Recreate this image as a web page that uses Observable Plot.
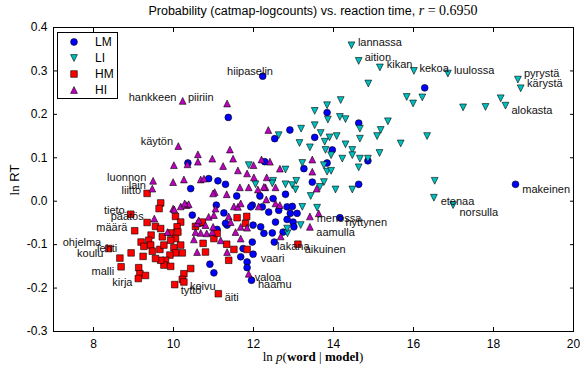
<!DOCTYPE html>
<html><head><meta charset="utf-8">
<script src="https://cdn.jsdelivr.net/npm/d3@7"></script>
<script src="https://cdn.jsdelivr.net/npm/@observablehq/plot@0.6"></script>
<style>
body{margin:0;background:#fff;}
#wrap{position:relative;width:580px;height:371px;font-family:"Liberation Sans",Arial,sans-serif;color:#000;}
#title{position:absolute;left:53px;width:520px;top:3px;text-align:center;font-size:12.5px;line-height:16px;white-space:nowrap;}
.math{font-family:"Liberation Serif","DejaVu Serif",serif;font-size:14px;}
#xlabel{position:absolute;left:53px;width:520px;top:349px;text-align:center;font-family:"Liberation Serif",serif;font-size:13px;line-height:16px;}
#ylabel{position:absolute;left:-35px;top:172px;width:100px;text-align:center;transform:rotate(-90deg);font-size:13px;line-height:16px;}
#legend{position:absolute;left:57px;top:32px;width:59px;height:65px;border:1px solid #000;background:#fff;}
.lrow{position:absolute;left:0;height:16px;width:59px;font-size:12px;line-height:16px;}
.lrow svg{position:absolute;left:9px;top:1px;}
.lrow span{position:absolute;left:37px;top:0;}
</style>
</head><body>
<div id="wrap">
<div id="title">Probability (catmap-logcounts) vs. reaction time, <span class="math"><i>r</i> = 0.6950</span></div>
<div id="plot"></div>
<div id="legend"></div>
<div id="xlabel">ln <i>p</i>(<b>word</b> | <b>model</b>)</div>
<div id="ylabel"><span style="font-family:'Liberation Serif',serif">ln</span> RT</div>
</div>
<script>
// ---- data ----
const seriesNames = ["LM", "LI", "HM", "HI"];
const seriesColors = ["#0000ff", "#00bfbf", "#ff0000", "#bf00bf"];

const lmX = [12.23,11.37,10.36,10.88,11.11,11.30,10.43,11.58,12.16,12.28,12.91,12.53,13.26,13.84,13.97,14.86,13.47,14.63,12.80,12.49,13.84,14.63,13.53,16.28,18.55,11.07,11.26,10.47,11.97,12.22,12.38,12.84,12.99,12.55,12.84,11.09,11.34,11.99,12.18,12.26,12.47,12.52,11.97,11.99,11.68,11.84,10.91,11.01,11.95,11.74,12.63,12.92,13.09,12.97,13.01,12.74,11.84,14.16,11.30,11.93];
const lmY = [0.288,0.193,0.088,0.052,0.047,0.039,0.029,0.012,0.012,0.091,0.164,0.144,0.075,0.088,0.118,0.093,0.044,0.039,0.016,0.006,0.204,0.180,0.147,0.261,0.039,-0.009,-0.027,-0.032,-0.009,-0.013,-0.025,-0.042,-0.048,-0.048,-0.013,-0.065,-0.055,-0.055,-0.059,-0.074,-0.073,-0.094,-0.094,-0.122,-0.128,-0.140,-0.145,-0.165,-0.182,-0.109,-0.021,-0.028,-0.028,-0.012,-0.059,-0.071,-0.153,-0.038,-0.051,-0.013];

const liX = [14.45,14.63,15.16,16.01,16.86,18.61,18.68,18.18,18.30,17.80,17.24,16.22,15.99,15.83,14.87,14.18,13.84,13.53,13.86,14.16,14.30,14.66,15.36,15.18,13.53,13.68,13.19,13.90,14.08,14.66,15.09,16.34,15.68,16.53,16.51,16.99,15.15,12.63,13.15,13.41,13.78,14.30,13.80,13.94,14.47,14.47,14.22,14.66,14.86,14.63,13.76,13.84,13.94,13.22,12.80,12.49,12.47,12.80,12.97,13.07,13.05,13.76,13.66,14.05,14.47,13.43,11.88,12.05,12.85,13.18,13.22,13.59,12.84];
const liY = [0.359,0.323,0.308,0.300,0.294,0.280,0.260,0.237,0.220,0.217,0.216,0.239,0.225,0.240,0.271,0.233,0.221,0.208,0.188,0.194,0.189,0.167,0.184,0.164,0.175,0.157,0.167,0.147,0.150,0.144,0.150,0.150,0.133,0.047,0.008,-0.009,0.111,0.152,0.134,0.124,0.137,0.131,0.118,0.106,0.118,0.106,0.098,0.098,0.098,0.078,0.083,0.068,0.070,0.088,0.073,0.047,0.041,0.039,0.037,0.047,0.027,0.044,0.033,0.027,0.027,0.012,0.083,0.039,-0.074,-0.055,-0.013,-0.015,-0.063];

const hmX = [9.34,9.68,9.64,8.93,10.05,10.18,9.34,9.03,9.55,9.68,10.09,9.44,9.72,9.93,10.11,10.05,9.19,9.38,9.43,9.26,9.47,9.66,9.76,9.93,10.18,10.01,10.05,10.22,9.91,9.80,9.76,9.93,9.24,8.94,8.66,8.38,8.69,9.13,9.16,9.68,9.55,10.43,10.26,10.22,10.03,10.80,10.74,10.68,11.12,10.55,11.01,11.09,10.72,11.33,11.51,11.84,11.38,11.59,11.80,11.83,13.11,9.12,9.30,10.26];
const hmY = [0.018,-0.004,-0.017,-0.030,-0.035,-0.048,-0.049,-0.068,-0.058,-0.063,-0.059,-0.078,-0.082,-0.073,-0.071,-0.086,-0.094,-0.090,-0.101,-0.104,-0.115,-0.111,-0.101,-0.090,-0.101,-0.107,-0.119,-0.119,-0.124,-0.136,-0.147,-0.150,-0.127,-0.119,-0.131,-0.109,-0.151,-0.153,-0.167,-0.136,-0.132,-0.155,-0.167,-0.180,-0.192,-0.117,-0.097,-0.050,-0.213,-0.058,-0.086,-0.074,-0.048,-0.099,-0.111,-0.111,-0.136,-0.038,-0.051,-0.035,-0.099,-0.178,-0.171,-0.186];

const hiX = [10.23,11.34,12.37,10.12,10.61,10.61,10.97,11.41,11.49,11.24,11.61,12.20,9.49,9.47,9.99,10.26,10.68,10.76,11.03,11.33,11.66,11.88,12.01,12.11,12.30,13.47,13.47,12.66,12.41,12.33,12.26,12.55,13.58,9.52,10.18,10.33,9.99,10.99,9.85,10.51,10.59,10.59,10.80,10.55,10.68,10.83,10.97,11.18,10.99,10.88,10.38,11.51,11.61,12.13,12.32,12.55,12.66,10.28,10.63,11.01,11.38,11.43,11.68,11.55,12.68,11.68,11.34,11.88,11.68,11.84,11.05,13.41,13.41,13.63,10.01,10.35,11.84,12.00,10.02];
const hiY = [0.231,0.225,0.164,0.127,0.108,0.091,0.098,0.119,0.098,0.081,0.071,0.096,0.047,0.029,0.044,0.050,0.050,0.052,0.021,0.016,0.032,0.032,0.055,0.027,0.032,0.096,0.068,0.075,0.091,0.055,0.033,0.032,0.029,-0.040,-0.012,-0.009,-0.017,0.018,-0.071,-0.088,-0.117,-0.051,-0.055,-0.071,-0.073,-0.074,-0.071,-0.090,-0.059,-0.036,-0.007,-0.012,-0.013,-0.012,0.004,-0.005,-0.009,-0.005,-0.044,-0.032,-0.035,-0.048,-0.059,-0.071,-0.081,-0.086,-0.117,-0.167,-0.005,-0.061,-0.017,-0.035,-0.059,-0.028,0.083,0.085,0.064,0.083,-0.019];

// word labels: text and the data position of the text's left edge
const labelWords = ["lannassa","aition","kikan","kekoa","luulossa","pyrystä","kärystä","alokasta","makeinen","etenaa","norsulla","menossa","hyttynen","aamulla","lakana","aikuinen","vaari","valoa","haamu","äiti","koivu","tyttö","kirja","malli","koulu","lehti","ohjelma","määrä","päätös","tieto","liitto","lain","luonnon","käytön","hankkeen","piiriin","hiipaselin"];
const labelX = [14.61,14.78,15.33,16.15,17.01,18.76,18.84,18.45,18.72,16.68,17.15,13.58,14.30,13.57,12.59,13.28,12.18,12.03,12.11,11.28,10.41,10.18,8.47,7.95,7.59,8.09,7.23,8.07,8.43,8.26,8.70,8.88,8.34,9.18,8.88,10.36,11.34];
const labelY = [0.365,0.331,0.315,0.306,0.300,0.293,0.271,0.208,0.027,0.000,-0.025,-0.040,-0.049,-0.071,-0.104,-0.111,-0.132,-0.176,-0.192,-0.222,-0.197,-0.205,-0.188,-0.161,-0.121,-0.109,-0.095,-0.061,-0.036,-0.022,0.025,0.037,0.055,0.138,0.240,0.239,0.298];

const xTicks = [8, 10, 12, 14, 16, 18, 20];
const yTicks = [-0.3, -0.2, -0.1, 0.0, 0.1, 0.2, 0.3, 0.4];
const xDomain = [7, 20];
const yDomain = [-0.3, 0.4];

// ---- symbols (matplotlib-like: half-extent = r) ----
const half = size => Math.sqrt(size / Math.PI);
const symSquare = {draw(c, size){const s = half(size); c.rect(-s, -s, 2*s, 2*s);}};
const symTriUp = {draw(c, size){const s = half(size); c.moveTo(0,-s); c.lineTo(-s,s); c.lineTo(s,s); c.closePath();}};
const symTriDown = {draw(c, size){const s = half(size); c.moveTo(0,s); c.lineTo(-s,-s); c.lineTo(s,-s); c.closePath();}};
const symbols = ["circle", symTriDown, symSquare, symTriUp];
const radii = [3.4, 3.4, 3.3, 3.4];

const toRows = (xs, ys) => xs.map((x, i) => ({x, y: ys[i]}));
const series = [toRows(lmX, lmY), toRows(liX, liY), toRows(hmX, hmY), toRows(hiX, hiY)];
const labels = labelWords.map((t, i) => ({t, x: labelX[i], y: labelY[i]}));

const marks = [];
series.forEach((rows, k) => {
  marks.push(Plot.dot(rows, {x: "x", y: "y", symbol: symbols[k], r: radii[k], fill: seriesColors[k], stroke: "#000", strokeWidth: 0.6}));
});
marks.push(Plot.text(labels, {x: "x", y: "y", text: "t", textAnchor: "start", fontSize: 11, fill: "#111"}));
marks.push(Plot.frame({stroke: "#000", strokeWidth: 1}));
marks.push(Plot.axisX(xTicks, {anchor: "bottom", tickSize: 0, tickPadding: 8, label: null, fontSize: 12}));
marks.push(Plot.axisX(xTicks, {anchor: "bottom", tickSize: -4, fill: "none", label: null}));
marks.push(Plot.axisX(xTicks, {anchor: "top", tickSize: -4, fill: "none", label: null}));
marks.push(Plot.axisY(yTicks, {anchor: "left", tickSize: 0, tickPadding: 6, label: null, fontSize: 12, tickFormat: d => d.toFixed(1)}));
marks.push(Plot.axisY(yTicks, {anchor: "left", tickSize: -4, fill: "none", label: null}));
marks.push(Plot.axisY(yTicks, {anchor: "right", tickSize: -4, fill: "none", label: null}));

const chart = Plot.plot({
  width: 580, height: 371,
  marginTop: 27, marginBottom: 40, marginLeft: 53, marginRight: 7,
  x: {domain: xDomain},
  y: {domain: yDomain},
  style: {fontFamily: "Liberation Sans, Arial, sans-serif", fontSize: "12px", background: "#fff", color: "#000", overflow: "visible"},
  marks
});
document.getElementById("plot").appendChild(chart);

// ---- legend ----
const leg = document.getElementById("legend");
const legTops = [1, 17, 33, 49];
seriesNames.forEach((name, k) => {
  const row = document.createElement("div");
  row.className = "lrow";
  row.style.top = (legTops[k]) + "px";
  const svg = d3.create("svg").attr("width", 14).attr("height", 14);
  svg.append("path")
    .attr("transform", "translate(7,7)")
    .attr("d", d3.symbol(symbols[k] === "circle" ? d3.symbolCircle : symbols[k], Math.PI * radii[k] * radii[k])())
    .attr("fill", seriesColors[k]).attr("stroke", "#000").attr("stroke-width", 0.6);
  row.appendChild(svg.node());
  const sp = document.createElement("span");
  sp.textContent = name;
  row.appendChild(sp);
  leg.appendChild(row);
});
</script>
</body></html>
